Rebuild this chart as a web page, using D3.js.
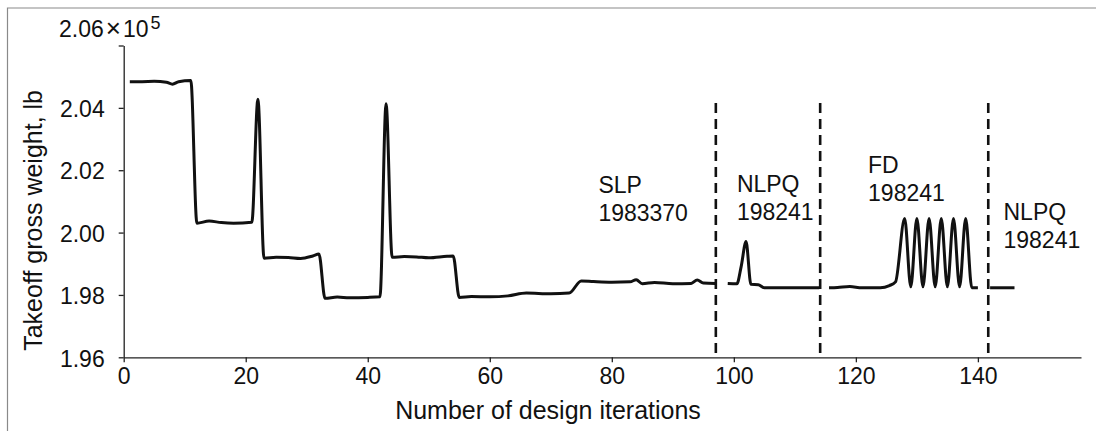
<!DOCTYPE html>
<html lang="en">

<head>
    <meta charset="UTF-8">
    <title>Takeoff gross weight</title>
    <style>
        body { margin: 0; background: #fff; }
        svg { display: block; }
        text { font-family: "Liberation Sans", Arial, sans-serif; fill: #111; }
    </style>
</head>

<body>
    <script src="https://d3js.org/d3.v7.min.js"></script>
    <script>
        // values in units of 1e5 lb
        const slpIter = [1, 3, 5, 7, 8, 9, 11, 12, 14, 16, 18, 21, 22, 23, 25, 27, 29, 31, 32, 33, 35, 37, 40, 42, 43, 44, 46, 48, 50, 53, 54,
            55, 57, 60, 63, 66, 70, 73, 75, 77, 80, 83, 84, 85, 87, 90, 93, 94, 95, 97];
        const slpVal = [2.0484, 2.0484, 2.0485, 2.0482, 2.0476, 2.0484, 2.0488, 2.0030, 2.0037, 2.0032, 2.0030, 2.0033, 2.0428, 1.9918, 1.9921, 1.9920, 1.9917, 1.9925, 1.9931, 1.9789, 1.9793, 1.9791, 1.9792, 1.9794, 2.0413, 1.9921, 1.9923, 1.9922, 1.9919, 1.9924, 1.9925,
            1.9792, 1.9795, 1.9794, 1.9797, 1.9806, 1.9804, 1.9806, 1.9845, 1.9843, 1.9841, 1.9842, 1.9849, 1.9836, 1.9840, 1.9836, 1.9837, 1.9848, 1.9838, 1.9837];

        const nlpqIter = [99, 100.5, 101.2, 102, 102.8, 104, 105, 108, 111, 114];
        const nlpqVal = [1.9837, 1.9836, 1.9891, 1.9971, 1.9834, 1.9833, 1.9823, 1.9823, 1.9823, 1.9823];

        const fdIter = [115.6, 117, 119, 121, 124, 125.5, 126.5, 128, 129, 130, 131, 132, 133, 134, 135, 136, 137, 138, 139, 140];
        const fdVal = [1.9823, 1.9824, 1.9827, 1.9823, 1.9823, 1.9830, 1.9842, 2.0045, 1.9826, 2.0045, 1.9826, 2.0045, 1.9826, 2.0045, 1.9826, 2.0045, 1.9826, 2.0045, 1.9823, 1.9823];

        const nlpq2Iter = [142, 144, 146];
        const nlpq2Val = [1.9823, 1.9823, 1.9823];

        const dividers = [97.05, 114.15, 141.7];
        const xTicks = [0, 20, 40, 60, 80, 100, 120, 140];
        const yTicks = [1.96, 1.98, 2.00, 2.02, 2.04, 2.06];

        // method / final weight labels, anchored at (iteration, value) of first baseline
        const notes = [
            { iter: 77.8, val: 2.0126, lines: ["SLP", "1983370"] },
            { iter: 100.5, val: 2.0129, lines: ["NLPQ", "198241"] },
            { iter: 122.0, val: 2.0190, lines: ["FD", "198241"] },
            { iter: 144.2, val: 2.0040, lines: ["NLPQ", "198241"] }
        ];

        const width = 1096;
        const height = 431;

        const svg = d3.select("body").append("svg")
            .attr("width", width)
            .attr("height", height);

        // partial frame (left and top edges)
        svg.append("path")
            .attr("d", "M7.5,431V8H1096")
            .attr("fill", "none")
            .attr("stroke", "#8a8a8a")
            .attr("stroke-width", 1.2);

        const x = d3.scaleLinear().domain([0, 156.9]).range([123.7, 1081]);
        const y = d3.scaleLinear().domain([1.96, 2.06]).range([357.3, 45.5]);

        const xAxis = svg.append("g")
            .attr("transform", `translate(0,${y(1.96)})`)
            .call(d3.axisBottom(x).tickValues(xTicks).tickSize(5).tickSizeOuter(0).tickFormat(d3.format("d")));

        const yAxis = svg.append("g")
            .attr("transform", `translate(${x(0)},0)`)
            .call(d3.axisLeft(y).tickValues(yTicks).tickSize(5).tickSizeOuter(0)
                .tickFormat(d => d === 2.06 ? "" : d3.format(".2f")(d)));

        [xAxis, yAxis].forEach(g => {
            g.select(".domain").attr("stroke", "#222").attr("stroke-width", 1.3);
            g.selectAll(".tick line").attr("stroke", "#222").attr("stroke-width", 1.3);
            g.selectAll(".tick text")
                .attr("font-family", "Liberation Sans, Arial, sans-serif")
                .attr("font-size", 23)
                .attr("fill", "#111");
        });
        xAxis.selectAll(".tick text").attr("y", 10).attr("dy", "0.71em");
        yAxis.selectAll(".tick text").attr("x", -19).attr("dy", "0.38em");

        // top label with exponent
        const topLabel = svg.append("text")
            .attr("x", 59)
            .attr("y", y(2.06) - 8.8)
            .attr("font-size", 23);
        topLabel.append("tspan").text("2.06");
        topLabel.append("tspan").attr("font-size", 26).attr("dx", 2).text("\u00d7");
        topLabel.append("tspan").attr("dx", 2).text("10");
        topLabel.append("tspan").attr("font-size", 18).attr("dx", 2).attr("dy", -8).text("5");

        svg.append("text")
            .attr("transform", `translate(42,${(y(1.96) + y(2.06)) / 2 + 19}) rotate(-90)`)
            .attr("text-anchor", "middle")
            .attr("font-size", 25)
            .text("Takeoff gross weight, lb");

        svg.append("text")
            .attr("x", 548)
            .attr("y", 419)
            .attr("text-anchor", "middle")
            .attr("font-size", 25)
            .text("Number of design iterations");

        // phase dividers
        svg.selectAll(".divider")
            .data(dividers)
            .enter()
            .append("line")
            .attr("class", "divider")
            .attr("x1", d => x(d))
            .attr("x2", d => x(d))
            .attr("y1", 103)
            .attr("y2", y(1.96))
            .attr("stroke", "#111")
            .attr("stroke-width", 2.6)
            .attr("stroke-dasharray", "10,6");

        const line = d3.line()
            .x(d => x(d[0]))
            .y(d => y(d[1]))
            .curve(d3.curveMonotoneX);

        const segments = [
            d3.zip(slpIter, slpVal),
            d3.zip(nlpqIter, nlpqVal),
            d3.zip(fdIter, fdVal),
            d3.zip(nlpq2Iter, nlpq2Val)
        ];

        svg.selectAll(".seg")
            .data(segments)
            .enter()
            .append("path")
            .attr("class", "seg")
            .attr("d", line)
            .attr("fill", "none")
            .attr("stroke", "#111")
            .attr("stroke-width", 3)
            .attr("stroke-linejoin", "round");

        const noteText = svg.selectAll(".note")
            .data(notes)
            .enter()
            .append("text")
            .attr("class", "note")
            .attr("font-size", 23);

        noteText.selectAll("tspan")
            .data(d => d.lines.map((s, i) => ({ s, i, d })))
            .enter()
            .append("tspan")
            .attr("x", t => x(t.d.iter))
            .attr("y", t => y(t.d.val) + t.i * 28)
            .text(t => t.s);
    </script>
</body>

</html>
